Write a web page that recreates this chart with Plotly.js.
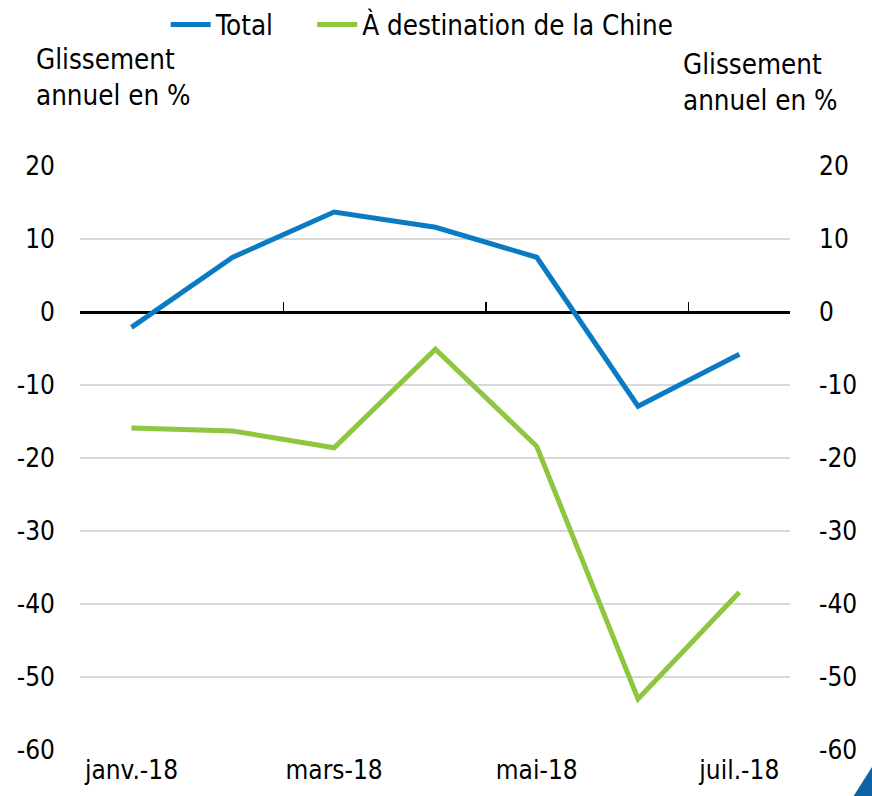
<!DOCTYPE html>
<html>
<head>
<meta charset="utf-8">
<script src="https://cdn.plot.ly/plotly-3.0.1.min.js"></script>
<style>html,body{margin:0;padding:0;background:#fff;}#chart{width:872px;height:796px;}</style>
</head>
<body>
<div id="chart"></div>
<script>
const months = ["janv.-18", "févr.-18", "mars-18", "avr.-18", "mai-18", "juin-18", "juil.-18"];
const totalValues = [-2.1, 7.5, 13.7, 11.6, 7.5, -12.9, -5.8];
const chinaValues = [-15.9, -16.3, -18.6, -5.1, -18.4, -53.0, -38.4];
const shownLabels = ["janv.-18", "mars-18", "mai-18", "juil.-18"];
const yTicks = [20, 10, 0, -10, -20, -30, -40, -50, -60];
const yTickText = yTicks.map(v => String(v));

const FONT = "'DejaVu Sans Condensed', 'Liberation Sans Narrow', sans-serif";
const XRANGE = [-0.508, 6.5];

const traces = [
  {x: months, y: totalValues, name: "Total", type: "scatter", mode: "lines",
   line: {color: "#0a7bc2", width: 5}, xaxis: "x", yaxis: "y", legend: "legend"},
  {x: months, y: chinaValues, name: "À destination de la Chine", type: "scatter", mode: "lines",
   line: {color: "#8dc63f", width: 5}, xaxis: "x2", yaxis: "y2", legend: "legend2"}
];

const legendBase = {orientation: "h", xref: "container", yref: "container", y: 1.0,
  xanchor: "left", yanchor: "top", font: {family: FONT, size: 27.5, color: "#000"},
  itemwidth: 40, tracegroupgap: 0, bgcolor: "rgba(0,0,0,0)"};

const layout = {
  width: 872, height: 796,
  margin: {l: 80, r: 82, t: 166, b: 46},
  paper_bgcolor: "#fff", plot_bgcolor: "#fff",
  font: {family: FONT, size: 25, color: "#000"},
  showlegend: true,
  legend: Object.assign({}, legendBase, {x: 0.19}),
  legend2: Object.assign({}, legendBase, {x: 0.358}),
  xaxis: {type: "category", categoryorder: "array", categoryarray: months,
          range: XRANGE, anchor: "free", position: 0.75,
          tickmode: "array", tickvals: [-0.5, 1.5, 3.5, 5.5],
          ticks: "inside", ticklen: 9, tickwidth: 1.5, tickcolor: "#000",
          showticklabels: false, showgrid: false, zeroline: false,
          showline: true, linecolor: "#000", linewidth: 2.5, layer: "below traces"},
  xaxis2: {type: "category", categoryorder: "array", categoryarray: months,
           overlaying: "x", anchor: "y2", side: "bottom",
           range: XRANGE, tickmode: "array", tickvals: shownLabels, ticktext: shownLabels,
           showgrid: false, showline: false, zeroline: false, ticks: "",
           tickfont: {family: FONT, size: 26, color: "#000"}, ticklabelstandoff: 2},
  yaxis: {range: [-60, 20], tickmode: "array", tickvals: yTicks, ticktext: yTickText,
          showgrid: true, gridcolor: "#d9d9d9", gridwidth: 1.5, zeroline: false,
          showline: false, ticks: "", ticklabelstandoff: 24,
          tickfont: {family: FONT, size: 26, color: "#000"}},
  yaxis2: {overlaying: "y", side: "right", anchor: "x2", range: [-60, 20],
           tickmode: "array", tickvals: yTicks, ticktext: yTickText,
           showgrid: false, zeroline: false, showline: false, ticks: "", ticklabelstandoff: 28,
           tickfont: {family: FONT, size: 26, color: "#000"}},
  annotations: [
    {text: "Glissement<br>annuel en %", xref: "paper", yref: "paper", x: -0.065, y: 1.09,
     xanchor: "left", yanchor: "bottom", align: "left", showarrow: false,
     font: {family: FONT, size: 27.5, color: "#000"}},
    {text: "Glissement<br>annuel en %", xref: "paper", yref: "paper", x: 0.847, y: 1.083,
     xanchor: "left", yanchor: "bottom", align: "left", showarrow: false,
     font: {family: FONT, size: 27.5, color: "#000"}}
  ],
  shapes: [
    {type: "path", xref: "paper", yref: "paper", path: "M 1.089 -0.08 L 1.117 -0.026 L 1.117 -0.08 Z",
     fillcolor: "#0d62a3", line: {width: 0}, layer: "above"}
  ]
};

Plotly.newPlot("chart", traces, layout, {displayModeBar: false, staticPlot: true});
</script>
</body>
</html>
